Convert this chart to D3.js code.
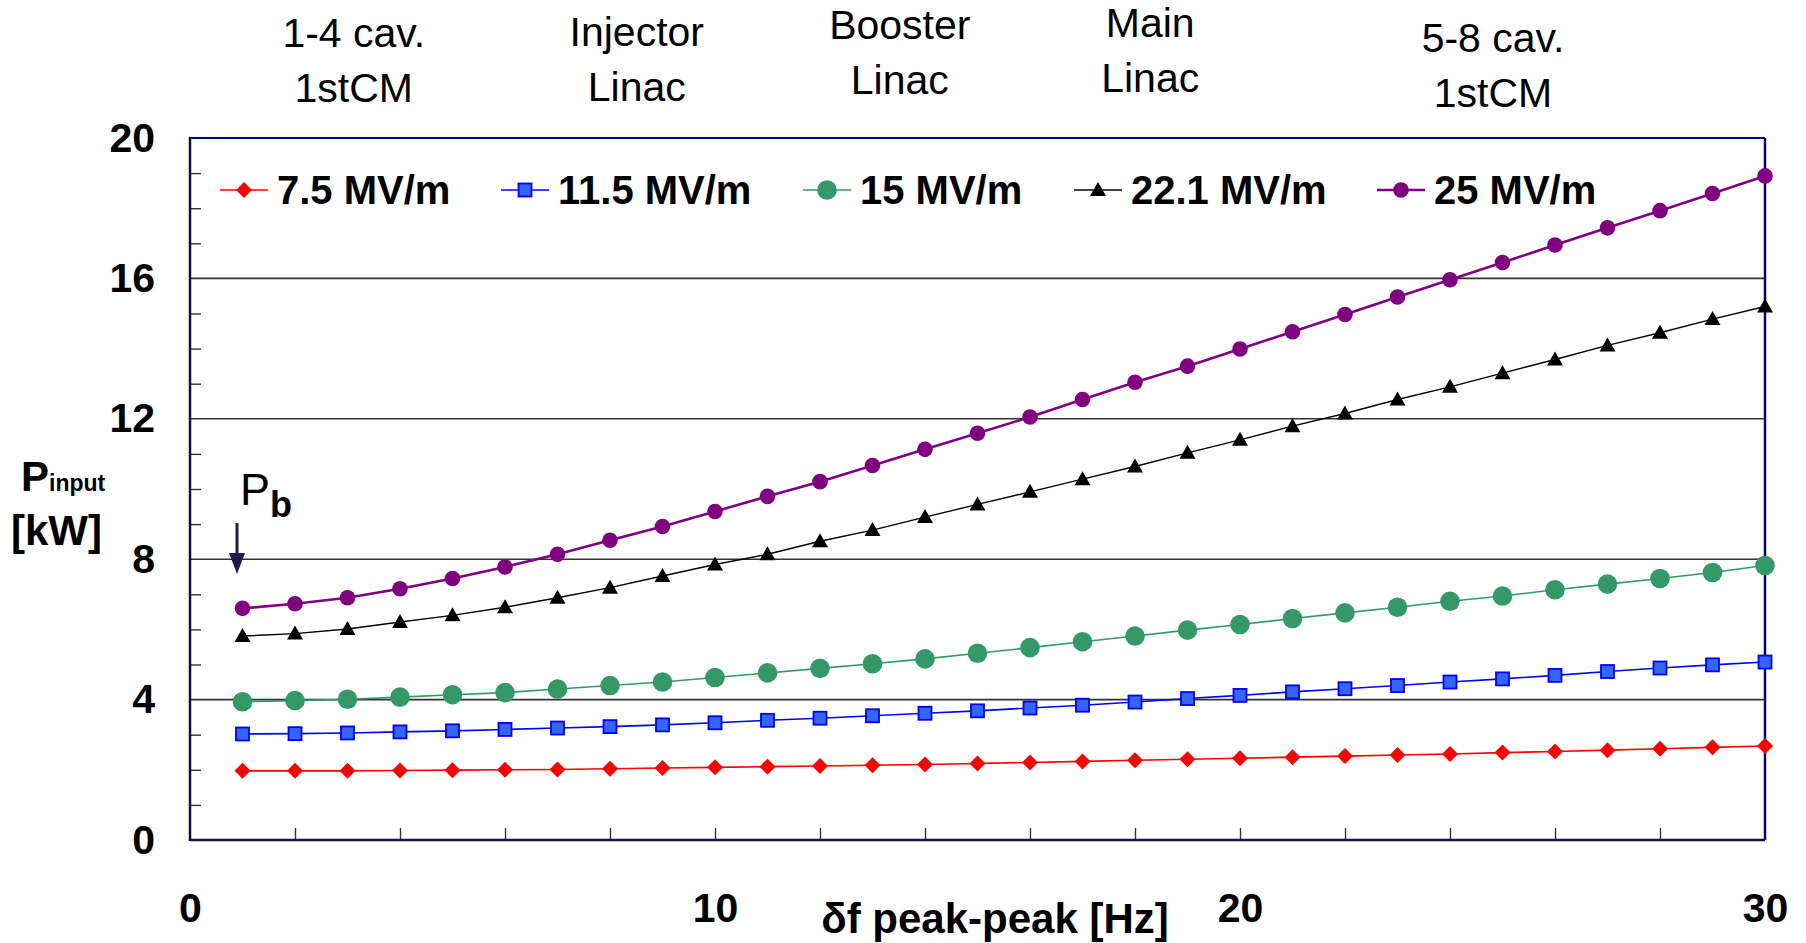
<!DOCTYPE html>
<html>
<head>
<meta charset="utf-8">
<script src="https://cdn.jsdelivr.net/npm/d3@7"></script>
<style>
  body { margin: 0; background: #fff; }
  svg { display: block; font-family: "Liberation Sans", Arial, sans-serif; }
</style>
</head>
<body>
<div id="chart"></div>
<script>
// detuning peak-peak [Hz]
const detuning = d3.range(1, 31);

const p75 = [1.97, 1.97, 1.97, 1.98, 1.99, 2.00, 2.01, 2.03, 2.05, 2.07,
  2.09, 2.11, 2.13, 2.15, 2.18, 2.21, 2.24, 2.27, 2.30, 2.33,
  2.36, 2.39, 2.42, 2.45, 2.49, 2.52, 2.56, 2.60, 2.64, 2.68];
const p115 = [3.02, 3.03, 3.05, 3.08, 3.11, 3.15, 3.19, 3.23, 3.28, 3.34,
  3.41, 3.47, 3.54, 3.61, 3.68, 3.76, 3.84, 3.93, 4.03, 4.12,
  4.22, 4.31, 4.40, 4.50, 4.59, 4.69, 4.80, 4.90, 4.99, 5.07];
const p15 = [3.94, 3.97, 4.01, 4.07, 4.14, 4.20, 4.30, 4.40, 4.50, 4.63,
  4.76, 4.89, 5.02, 5.16, 5.32, 5.48, 5.65, 5.81, 5.98, 6.14,
  6.31, 6.47, 6.63, 6.80, 6.95, 7.13, 7.29, 7.45, 7.62, 7.82];
const p221 = [5.81, 5.88, 6.01, 6.21, 6.40, 6.63, 6.90, 7.19, 7.52, 7.85,
  8.14, 8.51, 8.83, 9.20, 9.56, 9.92, 10.28, 10.64, 11.03, 11.40,
  11.79, 12.15, 12.55, 12.91, 13.30, 13.69, 14.09, 14.45, 14.84, 15.20];
const p25 = [6.60, 6.73, 6.90, 7.16, 7.45, 7.78, 8.14, 8.54, 8.93, 9.36,
  9.79, 10.21, 10.67, 11.13, 11.59, 12.05, 12.55, 13.04, 13.50, 13.99,
  14.48, 14.97, 15.47, 15.96, 16.45, 16.95, 17.44, 17.93, 18.42, 18.92];

const seriesNames = ["7.5 MV/m", "11.5 MV/m", "15 MV/m", "22.1 MV/m", "25 MV/m"];
const seriesValues = [p75, p115, p15, p221, p25];

const yTickLabels = [0, 4, 8, 12, 16, 20];
const xTickLabels = [0, 10, 20, 30];

const topLabels = [
  { x: 3.12, lines: ["1-4 cav.", "1stCM"], dy: 0 },
  { x: 8.51, lines: ["Injector", "Linac"], dy: -1 },
  { x: 13.52, lines: ["Booster", "Linac"], dy: -8 },
  { x: 18.29, lines: ["Main", "Linac"], dy: -10 },
  { x: 24.82, lines: ["5-8 cav.", "1stCM"], dy: 5 }
];

// marker / line styling per series
const styles = [
  { line: "#ff0000", w: 1.6, shape: "diamond" },
  { line: "#0000ff", w: 1.6, shape: "square" },
  { line: "#339966", w: 1.6, shape: "bigcircle" },
  { line: "#000000", w: 1.4, shape: "triangle" },
  { line: "#800080", w: 2.6, shape: "circle" }
];

const width = 1806, height = 943;
const margin = { left: 190, right: 41, top: 138, bottom: 103 };

const svg = d3.select("#chart").append("svg")
  .attr("width", width).attr("height", height);

const x = d3.scaleLinear().domain([0, 30]).range([margin.left, width - margin.right]);
const y = d3.scaleLinear().domain([0, 20]).range([height - margin.bottom, margin.top]);

// grid lines
svg.append("g")
  .selectAll("line")
  .data([4, 8, 12, 16])
  .join("line")
  .attr("x1", x(0)).attr("x2", x(30))
  .attr("y1", d => y(d)).attr("y2", d => y(d))
  .attr("stroke", "#333").attr("stroke-width", 1.6);

// minor ticks on y (inward)
const yMinor = svg.append("g")
  .attr("transform", `translate(${x(0)},0)`)
  .call(d3.axisLeft(y)
    .tickValues(d3.range(1, 20).filter(v => v % 4 !== 0))
    .tickSize(-11).tickFormat(""));
yMinor.select(".domain").remove();
yMinor.selectAll("line").attr("stroke", "#333").attr("stroke-width", 1.4);

// y labels
const yLab = svg.append("g")
  .attr("transform", `translate(${x(0)},0)`)
  .call(d3.axisLeft(y).tickValues(yTickLabels).tickSize(0).tickPadding(35));
yLab.select(".domain").remove();
yLab.selectAll("text")
  .attr("font-size", 41).attr("font-weight", "bold").attr("fill", "#000")
  .attr("font-family", "Liberation Sans, Arial, sans-serif");

// x ticks (inward, every 2)
const xMinor = svg.append("g")
  .attr("transform", `translate(0,${y(0)})`)
  .call(d3.axisBottom(x).tickValues(d3.range(2, 30, 2)).tickSize(-12).tickFormat(""));
xMinor.select(".domain").remove();
xMinor.selectAll("line").attr("stroke", "#333").attr("stroke-width", 1.4);

// x labels
const xLab = svg.append("g")
  .attr("transform", `translate(0,${y(0)})`)
  .call(d3.axisBottom(x).tickValues(xTickLabels).tickSize(0).tickPadding(53));
xLab.select(".domain").remove();
xLab.selectAll("text")
  .attr("font-size", 41).attr("font-weight", "bold").attr("fill", "#000")
  .attr("font-family", "Liberation Sans, Arial, sans-serif");

// frame
svg.append("line").attr("x1", x(0)).attr("x2", x(30)).attr("y1", y(20)).attr("y2", y(20))
  .attr("stroke", "#000080").attr("stroke-width", 2);
svg.append("line").attr("x1", x(30)).attr("x2", x(30)).attr("y1", y(20)).attr("y2", y(0))
  .attr("stroke", "#000080").attr("stroke-width", 2.5);
svg.append("line").attr("x1", x(0)).attr("x2", x(30)).attr("y1", y(0)).attr("y2", y(0))
  .attr("stroke", "#14144a").attr("stroke-width", 2.5);
svg.append("line").attr("x1", x(0)).attr("x2", x(0)).attr("y1", y(20) - 1).attr("y2", y(0) + 1)
  .attr("stroke", "#0c0c3c").attr("stroke-width", 2.5);

function drawMarker(g, shape) {
  if (shape === "diamond") {
    g.append("path").attr("d", "M0,-8 L8,0 L0,8 L-8,0 Z").attr("fill", "#ff0000");
  } else if (shape === "square") {
    g.append("rect").attr("x", -6.5).attr("y", -6.5).attr("width", 13).attr("height", 13)
      .attr("fill", "#3366ff").attr("stroke", "#0000ff").attr("stroke-width", 1.8);
  } else if (shape === "bigcircle") {
    g.append("circle").attr("r", 9.8).attr("fill", "#339966");
  } else if (shape === "triangle") {
    g.append("path").attr("d", "M0,-8 L8,6 L-8,6 Z").attr("fill", "#000");
  } else {
    g.append("circle").attr("r", 7.8).attr("fill", "#800080");
  }
}

const line = d3.line().x(d => x(d[0])).y(d => y(d[1]));

seriesValues.forEach((vals, i) => {
  const pts = detuning.map((f, j) => [f, vals[j]]);
  svg.append("path")
    .datum(pts)
    .attr("d", line)
    .attr("fill", "none")
    .attr("stroke", styles[i].line)
    .attr("stroke-width", styles[i].w);
  svg.append("g")
    .selectAll("g")
    .data(pts)
    .join("g")
    .attr("transform", d => `translate(${x(d[0])},${y(d[1])})`)
    .each(function () { drawMarker(d3.select(this), styles[i].shape); });
});

// legend
const legendX = [244, 525, 827, 1098, 1401];
const legendY = 190;
seriesNames.forEach((name, i) => {
  const g = svg.append("g").attr("transform", `translate(${legendX[i]},${legendY})`);
  g.append("line").attr("x1", -24).attr("x2", 24)
    .attr("stroke", styles[i].line).attr("stroke-width", styles[i].w);
  drawMarker(g, styles[i].shape);
  g.append("text").attr("x", 33).attr("y", 14)
    .attr("font-size", 40).attr("font-weight", "bold").text(name);
});

// top labels
topLabels.forEach(t => {
  const tx = svg.append("text")
    .attr("text-anchor", "middle")
    .attr("font-size", 41)
    .attr("x", x(t.x));
  t.lines.forEach((l, k) => {
    tx.append("tspan").attr("x", x(t.x)).attr("y", 47 + t.dy + k * 55).text(l);
  });
});

// axis titles
svg.append("text")
  .attr("x", 995).attr("y", 933)
  .attr("text-anchor", "middle")
  .attr("font-size", 42).attr("font-weight", "bold")
  .text("\u03b4f peak-peak [Hz]");

const pt = svg.append("text").attr("x", 21).attr("y", 491)
  .attr("font-weight", "bold").attr("font-size", 42);
pt.append("tspan").text("P");
pt.append("tspan").attr("font-size", 23).text("input");
svg.append("text").attr("x", 11).attr("y", 545)
  .attr("font-weight", "bold").attr("font-size", 42).text("[kW]");

// P_b annotation with arrow
const pb = svg.append("text").attr("x", 240).attr("y", 505).attr("font-size", 45);
pb.append("tspan").text("P");
pb.append("tspan").attr("font-size", 36).attr("font-weight", "bold").attr("dy", 12).text("b");
svg.append("line").attr("x1", 237).attr("x2", 237).attr("y1", 523).attr("y2", 560)
  .attr("stroke", "#231a4d").attr("stroke-width", 3);
svg.append("path").attr("d", "M229,553 L245,553 L237,574 Z").attr("fill", "#231a4d");
</script>
</body>
</html>
